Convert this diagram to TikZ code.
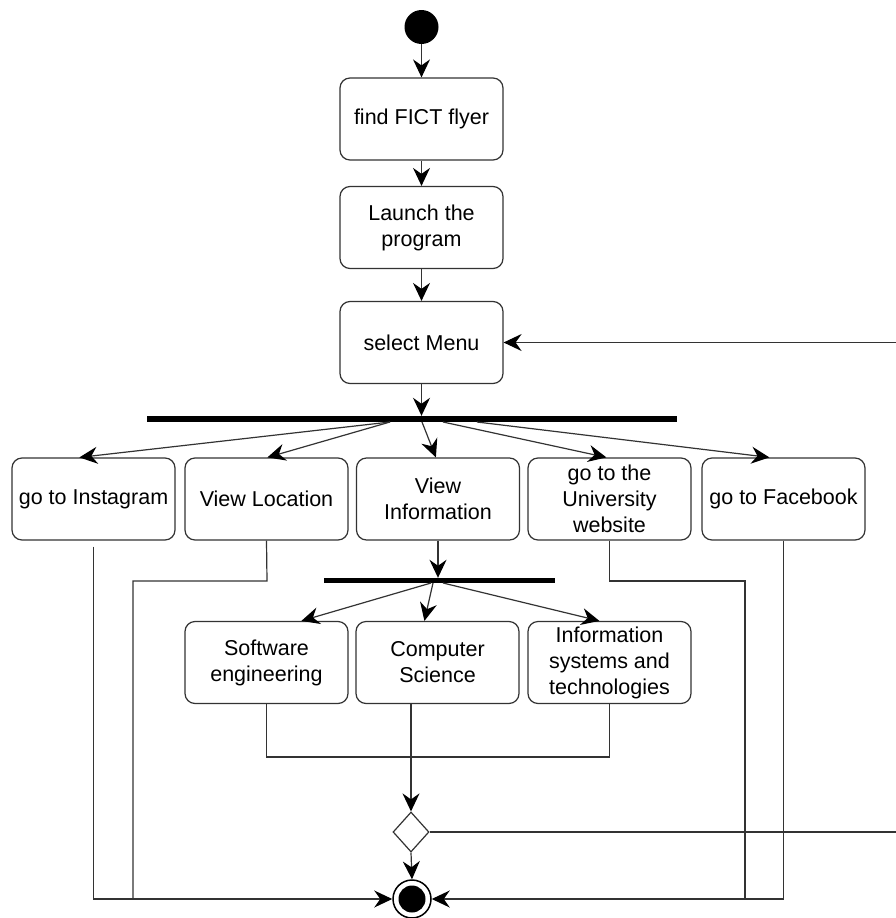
\documentclass[tikz,border=0pt]{standalone}
\usepackage{fontspec}
\setmainfont{Liberation Sans}
\usetikzlibrary{shapes.geometric,arrows.meta,calc}
\definecolor{ln}{HTML}{333333}
\begin{document}
\begin{tikzpicture}[x=1pt,y=-1pt,
  act/.style={draw=ln, line width=1.2pt, rounded corners=10pt, align=center,
    minimum width=163pt, minimum height=82pt, inner sep=1pt,
    font=\fontsize{21.5}{26}\selectfont, text=black},
  bar/.style={fill=black, inner sep=0pt, draw=none},
  wire/.style={draw=ln, line width=1.2pt},
  arr/.style={wire, -{Stealth[length=18pt,width=17pt,inset=6pt,color=black]}}]
\useasboundingbox (0,0) rectangle (896,918);
\fill[white] (0,0) rectangle (896,918);

% start
\node[circle, fill=black, minimum size=34pt, inner sep=0pt] (start) at (421.5,27) {};
% top column
\node[act] (find) at (421.5,119) {find FICT flyer};
\node[act] (launch) at (421.5,227.5) {Launch the\\program};
\node[act] (sel) at (421.5,342.5) {select Menu};
% fork 1
\node[bar, minimum width=530pt, minimum height=6pt] (bar1) at (412,419) {};
% row of activities
\node[act] (insta) at (93.5,499) {go to Instagram};
\node[act] (vloc) at (266.5,499) {View Location};
\node[act] (vinfo) at (438,499) {View\\Information};
\node[act] (univ) at (609.5,499) {go to the\\University\\website};
\node[act] (fb) at (783.5,499) {go to Facebook};
% fork 2
\node[bar, minimum width=231pt, minimum height=5pt] (bar2) at (439.5,580.5) {};
\node[act] (se) at (266.5,662.5) {Software\\engineering};
\node[act] (cs) at (437.5,662.5) {Computer\\Science};
\node[act] (is) at (609.5,662.5) {Information\\systems and\\technologies};
% decision and final
\node[diamond, draw=ln, line width=1.2pt, minimum width=36pt, minimum height=40pt, inner sep=0pt] (dec) at (411,832) {};
\node[circle, draw=black, line width=1.5pt, minimum size=38pt, inner sep=0pt] (fin) at (412,899) {};
\node[circle, fill=black, minimum size=27pt, inner sep=0pt] (finin) at (fin) {};

% coordinates
\coordinate (b1a) at (390,422);
\coordinate (b1b) at (422,422);
\coordinate (b1c) at (443,422);
\coordinate (b1d) at (477,422);
\coordinate (b2a) at (431,583);
\coordinate (b2b) at (433,583);
\coordinate (b2c) at (443,583);
\coordinate (merge) at (411,757);
\coordinate (vlocA) at (267,581);
\coordinate (vlocB) at (133,581);
\coordinate (univA) at (609.5,581);
\coordinate (univB) at (745,581);
\coordinate (loop) at (898,832);

% top chain
\draw[arr] (start) -- (find);
\draw[arr] (find) -- (launch);
\draw[arr] (launch) -- (sel);
\draw[arr] (sel) -- (sel.south |- bar1.north);
% fork 1 outputs
\draw[arr] (b1a) -- ($(insta.north west)+(68,0)$);
\draw[arr] (b1a) -- ($(vloc.north west)+(83,0)$);
\draw[arr] (b1b) -- ($(vinfo.north west)+(80,0)$);
\draw[arr] (b1c) -- ($(univ.north west)+(79,0)$);
\draw[arr] (b1d) -- ($(fb.north west)+(68,0)$);
% fork 2
\draw[arr] (vinfo.south) -- (vinfo.south |- bar2.north);
\draw[arr] (b2a) -- ($(se.north west)+(117,0)$);
\draw[arr] (b2b) -- ($(cs.north west)+(69,0)$);
\draw[arr] (b2c) -- ($(is.north west)+(72,0)$);
% merge
\draw[wire] (se.south) |- (merge);
\draw[wire] (is.south) |- (merge);
\draw[arr, line width=1.6pt] (cs.south -| dec.north) -- (dec.north);
\draw[arr] (dec.south) -- (fin.north);
% loop back
\draw[arr] (dec.east) -- (loop) |- (sel.east);
% to final
\draw[arr, shorten <=6pt] (insta.south) |- (fin.west);
\draw[wire] (vloc.south) -- (vlocA) -- (vlocB) -- (vlocB |- fin.west);
\draw[arr] (fb.south) |- (fin.east);
\draw[wire] (univ.south) -- (univA) -- (univB) -- (univB |- fin.east);
\end{tikzpicture}
\end{document}
